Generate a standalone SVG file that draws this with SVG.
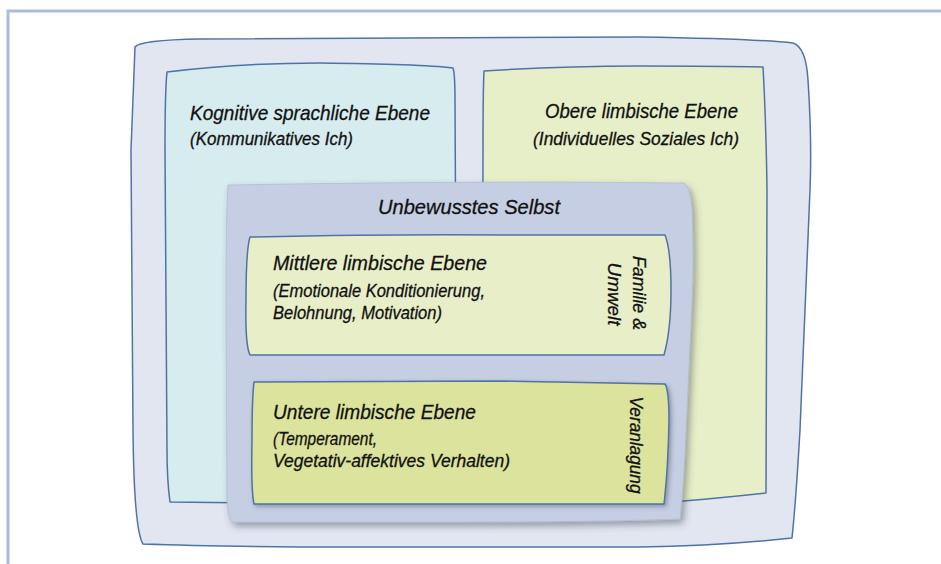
<svg xmlns="http://www.w3.org/2000/svg" width="941" height="564" viewBox="0 0 941 564">
  <style>
    .box { stroke: #4f73a6; stroke-width: 1.5; stroke-linejoin: round; }
    .t { font-family: "Liberation Sans", "DejaVu Sans", sans-serif; font-style: italic; fill: #111; stroke: #111; stroke-width: 0.3; }
    .h { font-size: 21px; }
    .s { font-size: 17.5px; }
  </style>
  <defs>
    <filter id="shadow" x="-10%" y="-10%" width="125%" height="130%">
      <feDropShadow dx="3" dy="4" stdDeviation="3.5" flood-color="#3a3f4a" flood-opacity="0.45"/>
    </filter>
    <filter id="shadowSmall" x="-10%" y="-10%" width="120%" height="130%">
      <feDropShadow dx="2" dy="2" stdDeviation="2" flood-color="#3a3f4a" flood-opacity="0.4"/>
    </filter>
  </defs>

  <rect width="941" height="564" fill="#ffffff"/>

  <!-- page frame -->
  <path d="M8,564 L8,11 L941,11" fill="none" stroke="#adbbd9" stroke-width="3"/>

  <!-- outer container -->
  <g id="outer">
    <path class="box" fill="#e1e6f1"
      d="M135,47 Q140,40 200,39 L640,37 Q760,39 793,43 Q806,47 808,80 Q812,140 810,190 L800,430 Q796,500 792,538 Q720,546 640,547 L300,547 Q200,546 143,544 Q134,530 133,430 L131,150 Z"/>
  </g>

  <!-- cognitive level -->
  <g id="kognitiv">
    <path class="box" fill="#d6ecef"
      d="M167,72 Q240,63 320,63 Q420,64 453,68 Q455,74 455,100 L457,505 L170,502 Q167,480 167,450 L165,150 Q165,90 167,72 Z"/>
    <text class="t h" x="190" y="120" textLength="240" lengthAdjust="spacingAndGlyphs">Kognitive sprachliche Ebene</text>
    <text class="t s" x="190" y="145" textLength="163" lengthAdjust="spacingAndGlyphs">(Kommunikatives Ich)</text>
  </g>

  <!-- upper limbic level -->
  <g id="obere">
    <path class="box" fill="#e7efc8"
      d="M484,71 Q560,66 640,66 Q720,66 763,67 Q766,120 767,190 L766,493 Q720,498 683,501 L482,502 L483,150 Q483,90 484,71 Z"/>
    <text class="t h" x="738" y="118" text-anchor="end" textLength="193" lengthAdjust="spacingAndGlyphs">Obere limbische Ebene</text>
    <text class="t s" x="739" y="145" text-anchor="end" textLength="206" lengthAdjust="spacingAndGlyphs">(Individuelles Soziales Ich)</text>
  </g>

  <!-- unconscious self -->
  <g id="unbewusst">
    <path fill="#c5cee2" stroke="#b3bdd3" stroke-width="0.8" filter="url(#shadow)"
      d="M228,185 Q400,182 560,182 L684,183 Q690,186 692,210 Q694,260 692,300 L686,430 Q684,480 680,519 Q600,522 460,522 L233,522 Q228,520 227,500 L226,300 Q226,220 228,185 Z"/>
    <text class="t h" x="469" y="214" text-anchor="middle" textLength="182" lengthAdjust="spacingAndGlyphs">Unbewusstes Selbst</text>
  </g>

  <!-- middle limbic level -->
  <g id="mittlere">
    <path class="box" fill="#e8efc8"
      d="M250,237 Q400,234 500,235 L665,235 Q671,250 671,290 Q671,330 664,355 L400,355 L250,355 Q245,345 246,300 Q246,250 250,237 Z"/>
    <text class="t h" x="273" y="270" textLength="214" lengthAdjust="spacingAndGlyphs">Mittlere limbische Ebene</text>
    <text class="t s" x="273" y="297" textLength="212" lengthAdjust="spacingAndGlyphs">(Emotionale Konditionierung,</text>
    <text class="t s" x="273" y="319" textLength="169" lengthAdjust="spacingAndGlyphs">Belohnung, Motivation)</text>
    <text class="t s" x="293" y="-633" text-anchor="middle" transform="rotate(90)" textLength="74" lengthAdjust="spacingAndGlyphs">Familie &amp;</text>
    <text class="t s" x="294" y="-608" text-anchor="middle" transform="rotate(90)" textLength="63" lengthAdjust="spacingAndGlyphs">Umwelt</text>
  </g>

  <!-- lower limbic level -->
  <g id="untere">
    <path class="box" fill="#dbe39c" filter="url(#shadowSmall)"
      d="M254,382 Q400,381 500,381 L665,384 Q669,390 669,420 Q668,470 664,504 L500,504 L254,504 Q251,490 252,440 Q252,400 254,382 Z"/>
    <text class="t h" x="273" y="419" textLength="203" lengthAdjust="spacingAndGlyphs">Untere limbische Ebene</text>
    <text class="t s" x="273" y="445" textLength="104" lengthAdjust="spacingAndGlyphs">(Temperament,</text>
    <text class="t s" x="273" y="467" textLength="237" lengthAdjust="spacingAndGlyphs">Vegetativ-affektives Verhalten)</text>
    <text class="t s" x="445" y="-630" text-anchor="middle" transform="rotate(90)" textLength="97" lengthAdjust="spacingAndGlyphs">Veranlagung</text>
  </g>
</svg>
